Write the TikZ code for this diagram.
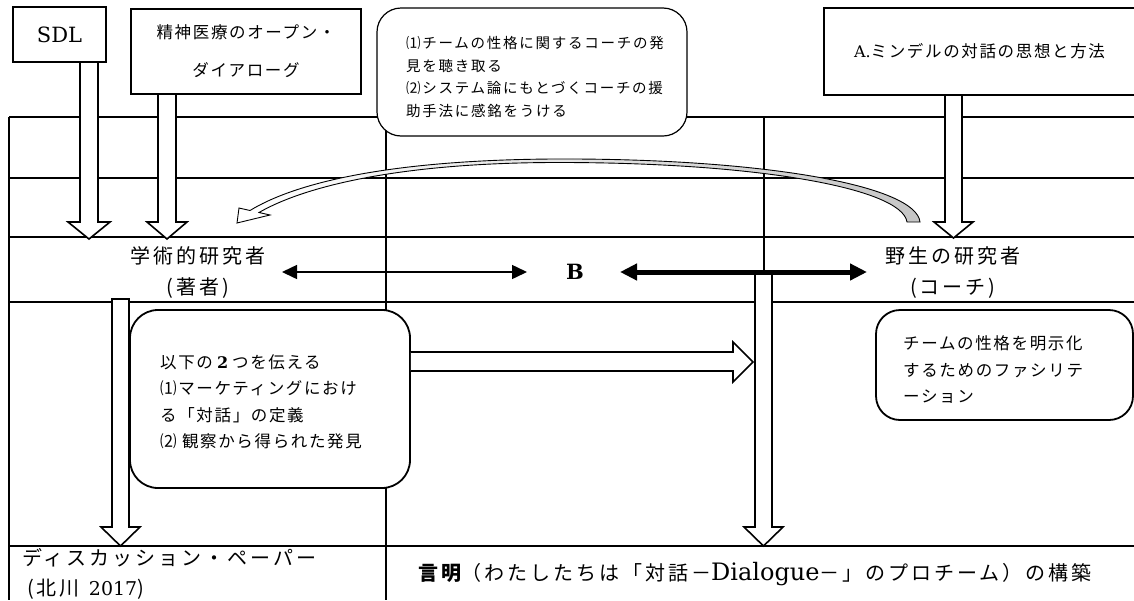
\documentclass[tikz,border=0pt]{standalone}
\usepackage{fontspec}
\setmainfont{DejaVu Serif}
\newfontfamily\jpA[LetterSpace=15]{Noto Sans CJK JP}
\newfontfamily\jpB[LetterSpace=10]{Noto Sans CJK JP}
\newfontfamily\jpC[LetterSpace=12]{Noto Sans CJK JP}
\usetikzlibrary{arrows.meta}
\newcommand\hdown[6]{%
  \draw[hollow] (#1,#3) -- (#1,#4) -- ({#1-#6},#4) -- ({(#1+#2)/2},#5) -- ({#2+#6},#4) -- (#2,#4) -- (#2,#3) -- cycle;}
\begin{document}
\begin{tikzpicture}[x=1pt,y=-1pt,
  tbl/.style={line width=1.5pt},
  box/.style={draw, line width=1.8pt, fill=white},
  rbox/.style={draw, line width=1.8pt, fill=white, rounded corners=28pt},
  hollow/.style={draw, line width=1.6pt, fill=white, line join=miter},
  big/.style={font=\fontsize{20}{31}\selectfont\jpA, align=center, inner sep=0pt},
  mid/.style={font=\fontsize{16.5}{26.5}\selectfont\jpB},
  small/.style={font=\fontsize{14.5}{22.5}\selectfont\jpC},
  thinarr/.style={line width=1.5pt, {Triangle[length=15pt,width=14pt]}-{Triangle[length=15pt,width=14pt]}},
  thickarr/.style={line width=5pt, {Triangle[length=17pt,width=16pt]}-{Triangle[length=17pt,width=16pt]}}
]
\useasboundingbox (0,0) rectangle (1134,600);
% table
\draw[tbl] (9,117) -- (1134,117);
\draw[tbl] (9,178) -- (1134,178);
\draw[tbl] (9,237) -- (1134,237);
\draw[tbl] (9,302) -- (1134,302);
\draw[tbl] (9,546) -- (1134,546);
\draw[tbl] (9,117) -- (9,600);
\draw[tbl] (386,117) -- (386,600);
\draw[tbl] (764,117) -- (764,272);

% curved hollow arrow
\shade[left color=white, right color=gray!45]
  (920,222) .. controls (916,185) and (760,158) .. (553,159)
  .. controls (400,160) and (300,180) .. (250,210.5) -- (259,212.5)
  .. controls (305,186) and (400,163) .. (553,162.5)
  .. controls (755,162) and (902,188) .. (907,222) -- cycle;
\fill[white] (239,208) -- (237,223) -- (270,215) -- cycle;
\draw[line width=0.9pt, line join=miter]
  (920,222) .. controls (916,185) and (760,158) .. (553,159)
  .. controls (400,160) and (300,180) .. (250,210.5) -- (239,208) -- (237,223) -- (270,215) -- (259,212.5)
  .. controls (305,186) and (400,163) .. (553,162.5)
  .. controls (755,162) and (902,188) .. (907,222) -- cycle;

% top boxes
\node[box, minimum width=93pt, minimum height=55pt, inner sep=0pt, font=\fontsize{21}{24}\selectfont] (sdl) at (59.5,34.5) {SDL};
\node[box, minimum width=230pt, minimum height=85pt, align=center, inner sep=0pt, font=\fontsize{16.5}{38}\selectfont\jpB] (od) at (246,51.5) {精神医療のオープン・\\ダイアローグ};
\node[box, mid, minimum width=311pt, minimum height=87pt, inner sep=0pt] (mindell) at (979.5,51.5) {\raisebox{-3pt}{{\fontsize{16}{20}\selectfont\rmfamily A.}ミンデルの対話の思想と方法}};
\node[rbox, line width=1.2pt, rounded corners=24pt, minimum width=310pt, minimum height=128pt] (note) at (532,72) {};
\node[small, align=left, anchor=west, inner sep=0pt] (notetext) at (406,77)
  {⑴チームの性格に関するコーチの発\\見を聴き取る\\⑵システム論にもとづくコーチの援\\助手法に感銘をうける};

% down arrows from sources
\hdown{80}{98}{62}{222}{239}{12}
\hdown{158}{176}{94}{222}{239}{11}
\hdown{945}{962}{95}{222}{238}{11}

% row labels
\node[big] (acad) at (198,272.5) {学術的研究者\\(著者)};
\node[big] (wild) at (953,272.5) {野生の研究者\\(コーチ)};
\node[inner sep=0pt, font=\fontsize{21}{24}\selectfont\bfseries] (B) at (575,272) {B};
\coordinate (a1) at (282,272);
\coordinate (a2) at (527,272);
\coordinate (a3) at (620,272);
\coordinate (a4) at (867,272);
\draw[thinarr] (a1) -- (a2);

% vertical arrows
\hdown{112}{129}{299}{527}{546}{11}
\hdown{755}{772}{272}{527}{546}{11}
\draw[thickarr] (a3) -- (a4);

% rounded boxes in the middle row
\node[rbox, minimum width=280pt, minimum height=178pt] (tell) at (270,399) {};
\node[mid, align=left, anchor=west, inner sep=0pt] (telltext) at (160,402)
  {以下の\hspace{4pt}{\fontsize{16}{20}\selectfont\rmfamily\bfseries 2}\hspace{4pt}つを伝える\\⑴マーケティングにおけ\\る「対話」の定義\\⑵ 観察から得られた発見};
\node[rbox, rounded corners=24pt, minimum width=257pt, minimum height=110pt] (facil) at (1004.5,365) {};
\node[mid, align=left, anchor=west, inner sep=0pt] (faciltext) at (903,370)
  {チームの性格を明示化\\するためのファシリテ\\ーション};
\draw[hollow] (tell.east |- 0,352) -- (733,352) -- (733,342) -- (753,362) -- (733,382) -- (733,371) -- (tell.east |- 0,371);

% bottom row
\node[big, align=left, anchor=west, font=\fontsize{20}{30}\selectfont\jpA] (paper) at (22,574) {ディスカッション・ペーパー\\\hspace*{5pt}(北川\hspace*{9pt}{\fontsize{19}{20}\selectfont\rmfamily 2017})};
\node[big, anchor=west] (state) at (418,574) {{\bfseries 言明}（わたしたちは「対話－{\fontsize{24}{26}\selectfont\rmfamily Dialogue}－」のプロチーム）の構築};
\end{tikzpicture}
\end{document}
